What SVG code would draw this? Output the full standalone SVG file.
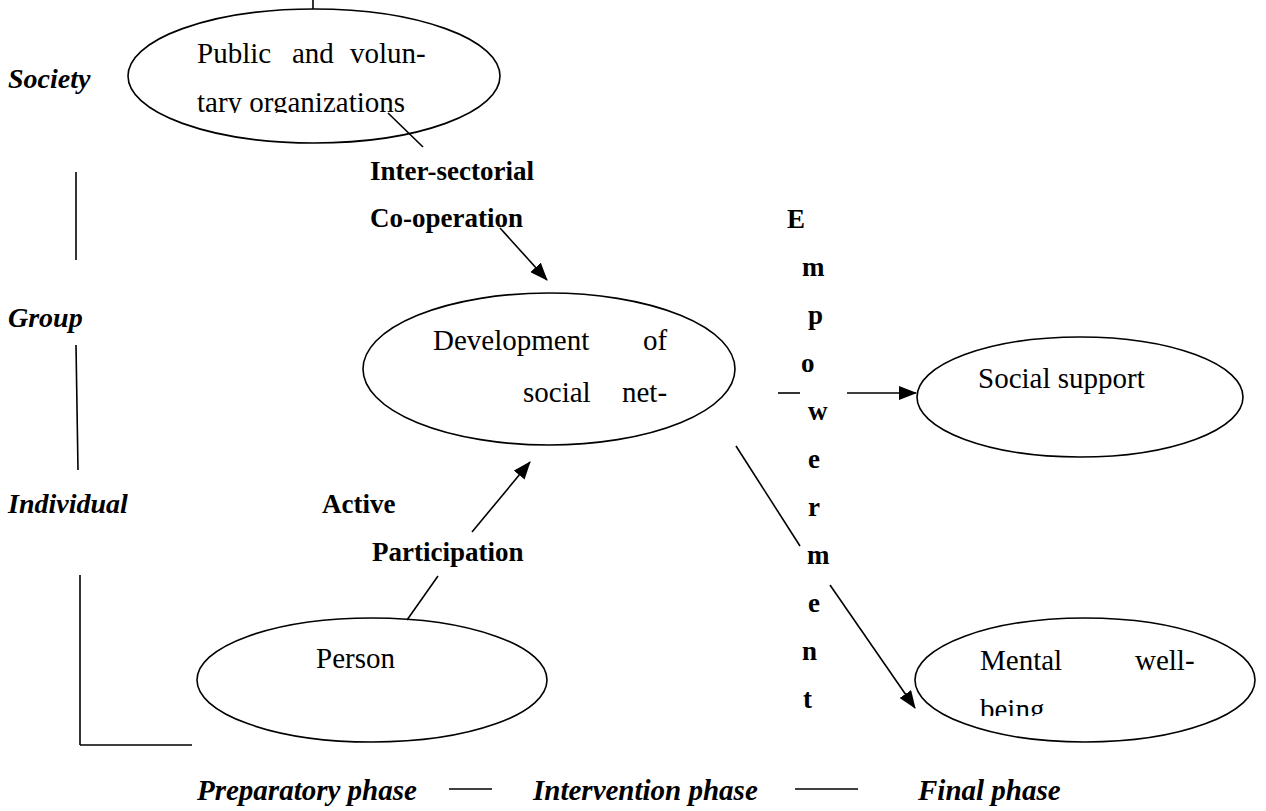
<svg xmlns="http://www.w3.org/2000/svg" width="1266" height="811" viewBox="0 0 1266 811">
<style>
text { font-family: "Liberation Serif", "Times New Roman", serif; fill:#000; }
.reg { font-size:29px; }
.b { font-size:27px; font-weight:bold; }
.bi { font-size:28px; font-weight:bold; font-style:italic; }
.ph { font-size:29px; font-weight:bold; font-style:italic; }
.ell { fill:none; stroke:#000; stroke-width:1.6; }
.ln { fill:none; stroke:#000; stroke-width:1.6; }
</style>
<defs>
<marker id="ah" markerUnits="userSpaceOnUse" markerWidth="18" markerHeight="14" refX="17" refY="7" orient="auto">
<path d="M0,0 L18,7 L0,14 Z" fill="#000"/>
</marker>
<clipPath id="clipTop"><rect x="0" y="0" width="1266" height="113"/></clipPath>
<clipPath id="clipMental"><rect x="0" y="0" width="1266" height="716"/></clipPath>
</defs>
<rect width="1266" height="811" fill="#fff"/>

<g id="axis-labels">
<text class="bi" x="8" y="88">Society</text>
<text class="bi" x="8" y="327">Group</text>
<text class="bi" x="8" y="513">Individual</text>
<line class="ln" x1="76" y1="172" x2="76" y2="260"/>
<line class="ln" x1="76" y1="345" x2="78" y2="470"/>
<line class="ln" x1="80" y1="575" x2="80" y2="745"/>
<line class="ln" x1="80" y1="745" x2="192" y2="745"/>
</g>

<g id="phase-labels">
<text class="ph" x="197" y="800">Preparatory phase</text>
<line class="ln" x1="449" y1="789" x2="492" y2="789"/>
<text class="ph" x="533" y="800">Intervention phase</text>
<line class="ln" x1="795" y1="789" x2="858" y2="789"/>
<text class="ph" x="918" y="800">Final phase</text>
</g>

<g id="node-public">
<ellipse class="ell" cx="314" cy="76" rx="186" ry="67"/>
<line class="ln" x1="313" y1="0" x2="313" y2="9"/>
<text class="reg" x="197" y="63">Public</text>
<text class="reg" x="292" y="63">and</text>
<text class="reg" x="350" y="63">volun-</text>
<text class="reg" x="197" y="112" clip-path="url(#clipTop)">tary organizations</text>
</g>

<g id="node-development">
<ellipse class="ell" cx="549" cy="369" rx="186" ry="76"/>
<text class="reg" x="433" y="350">Development</text>
<text class="reg" x="643" y="350">of</text>
<text class="reg" x="523" y="402">social</text>
<text class="reg" x="622" y="402">net-</text>
</g>

<g id="node-social-support">
<ellipse class="ell" cx="1080" cy="397" rx="163" ry="60"/>
<text class="reg" x="978" y="388">Social support</text>
</g>

<g id="node-mental">
<ellipse class="ell" cx="1085" cy="680" rx="170" ry="62"/>
<text class="reg" x="980" y="670">Mental</text>
<text class="reg" x="1135" y="670">well-</text>
<text class="reg" x="980" y="719" clip-path="url(#clipMental)">being</text>
</g>

<g id="node-person">
<ellipse class="ell" cx="372" cy="680" rx="175" ry="62"/>
<text class="reg" x="316" y="668">Person</text>
</g>

<g id="connectors">
<line class="ln" x1="388" y1="113" x2="423" y2="147"/>
<text class="b" x="370" y="180">Inter-sectorial</text>
<text class="b" x="370" y="227">Co-operation</text>
<line class="ln" x1="500" y1="228" x2="547" y2="280" marker-end="url(#ah)"/>

<line class="ln" x1="407" y1="620" x2="438" y2="576"/>
<line class="ln" x1="472" y1="532" x2="530" y2="462" marker-end="url(#ah)"/>
<text class="b" x="322" y="513">Active</text>
<text class="b" x="372" y="561">Participation</text>

<line class="ln" x1="778" y1="393" x2="800" y2="393"/>
<line class="ln" x1="847" y1="393" x2="916" y2="393" marker-end="url(#ah)"/>

<line class="ln" x1="736" y1="446" x2="800" y2="546"/>
<line class="ln" x1="830" y1="585" x2="915" y2="708" marker-end="url(#ah)"/>

<g id="empowerment">
<text class="b" x="787" y="228">E</text>
<text class="b" x="802" y="276">m</text>
<text class="b" x="808" y="324">p</text>
<text class="b" x="801" y="372">o</text>
<text class="b" x="808" y="420">w</text>
<text class="b" x="808" y="468">e</text>
<text class="b" x="808" y="516">r</text>
<text class="b" x="807" y="564">m</text>
<text class="b" x="808" y="612">e</text>
<text class="b" x="802" y="660">n</text>
<text class="b" x="803" y="708">t</text>
</g>
</g>
</svg>
